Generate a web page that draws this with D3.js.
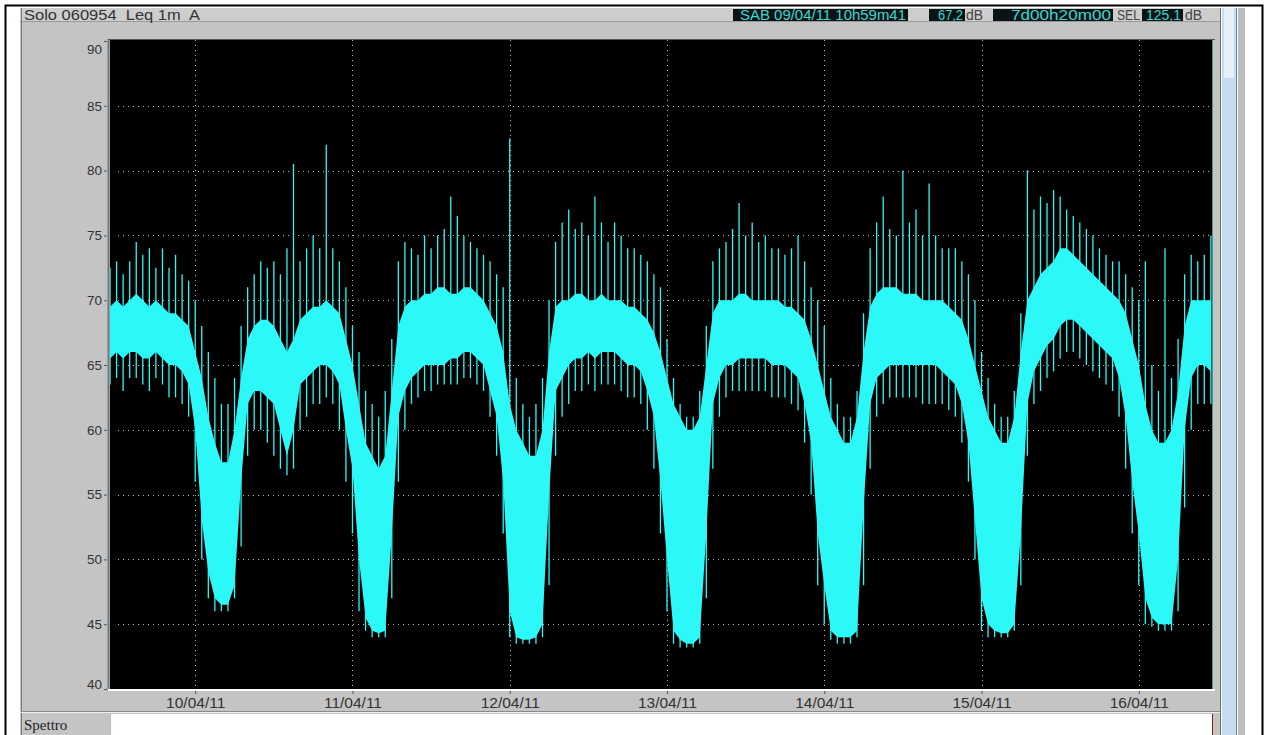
<!DOCTYPE html>
<html>
<head>
<meta charset="utf-8">
<script src="https://cdn.jsdelivr.net/npm/d3@7"></script>
<style>
body { margin: 0; background: #fff; }
svg { display: block; font-family: "Liberation Sans", Arial, sans-serif; }
</style>
</head>
<body>
<div class="chart"></div>
<script>
// hourly samples from 09/04/11 11:00, Leq 1m A (dB)
// lo/hi = dense band, pk = spike tops, mn = spike bottoms
var lo = [65.5, 66, 65.5, 66, 66, 65.5, 65.5, 66, 65.5, 65, 65, 64.5, 63.5,
    60, 53, 49, 47, 46.5, 46.5, 48, 56, 62, 63, 63, 62.5, 62, 60, 58, 60, 63.5, 64, 64.5, 65, 65, 64.5, 63.5, 60,
    57, 50, 45.5, 44.5, 44.3, 44.5, 52, 61, 63, 64, 64.5, 65, 65, 65, 65, 65.5, 65.5, 66, 66, 65.5, 65, 63, 61, 56,
    46, 44, 43.8, 43.8, 44, 45, 55, 63, 64, 65, 65.5, 65.5, 66, 65.5, 66, 66, 66, 65.5, 65, 65, 64.5, 63, 61, 56,
    50, 44.5, 43.8, 43.5, 43.5, 44, 52, 62, 64, 65, 65, 65.5, 65.5, 65.5, 65.5, 65.5, 65, 65, 65, 64.5, 64, 62, 59, 52,
    48, 44.5, 44, 44, 44, 44.5, 54, 62, 64, 64.5, 65, 65, 65, 65, 65, 65, 65, 65, 64.5, 64, 63.5, 62, 59, 53,
    47, 45, 44.5, 44.3, 44.3, 45, 52, 62, 64.5, 65.5, 66.5, 67, 68, 68.5, 68.5, 68, 67.5, 67, 66.5, 66, 65.5, 64, 61, 56,
    52, 47, 45.5, 45, 45, 45, 50, 60, 64, 65, 65, 64.5];

var hi = [69.5, 70, 69.5, 70, 70.5, 70, 69.5, 70, 69.5, 69, 69, 68.5, 68,
    66, 64, 61, 59, 57.5, 57.5, 60, 64, 67, 68, 68.5, 68.5, 68, 67, 66, 67, 68.5, 69, 69.5, 69.5, 70, 69.5, 69, 67,
    65, 62, 59, 58, 57, 58, 63, 68, 69.5, 70, 70, 70.5, 70.5, 71, 71, 70.5, 70.5, 71, 71, 70.5, 70, 69, 68, 66,
    62, 60, 59, 58, 58, 60, 66, 69.5, 70, 70, 70.5, 70.5, 70, 70, 70.5, 70, 70, 70, 69.5, 69.5, 69, 68.5, 67.5, 66,
    64, 62, 61, 60, 60, 61, 65, 69, 70, 70, 70, 70.5, 70.5, 70, 70, 70, 70, 70, 69.5, 69.5, 69, 68.5, 67, 65,
    63, 61, 60, 59, 59, 61, 66, 69.5, 70.5, 71, 71, 71, 70.5, 70.5, 70.5, 70, 70, 70, 70, 69.5, 69, 68.5, 67, 65,
    63, 61, 60, 59, 59, 61, 66, 70, 71, 72, 72.5, 73, 74, 74, 73.5, 73, 72.5, 72, 71.5, 71, 70.5, 70, 69, 67,
    65, 62, 60, 59, 59, 60, 63, 68, 70, 70, 70, 70];

var pk = [72.5, 73, 72, 73, 74.5, 73.5, 74, 72.5, 74, 72.5, 73.5, 72, 71.5,
    70, 68, 66, 64, 62, 62, 64, 68, 71, 72, 73, 72.5, 73, 72, 74, 80.5, 73, 74, 75, 74, 82, 74, 73, 71,
    68, 66, 63, 62, 61, 63, 67, 73, 74.5, 74, 73.5, 75, 74, 75, 75.5, 78, 76.5, 75, 74.5, 74, 73.5, 73, 72, 71,
    82.5, 64, 62, 61, 62, 64, 70, 74.5, 76, 77, 75.5, 76, 75, 78, 76, 74.5, 76, 75, 74, 74, 73.5, 73, 72, 71,
    67, 64, 62, 61, 61, 63, 68, 73, 74, 74.5, 75.5, 77.5, 75, 76, 74.5, 75, 74, 74, 73.5, 74, 75, 73, 71, 70,
    68, 64, 62, 61, 61, 63, 69, 74, 76, 78, 75.5, 75, 80, 76, 77, 75, 79, 75, 74, 74, 74, 73, 72, 70,
    66, 64, 62, 61, 61, 63, 69, 80, 77, 78, 77.5, 78.5, 78, 77, 76.5, 76, 75.5, 75, 74, 73.5, 73, 73, 72, 71,
    70, 73, 65, 63, 74, 64, 67, 72, 73.5, 73, 73.5, 75];

var mn = [63.5, 64, 63, 64, 64, 63.5, 63, 64, 63.5, 62.5, 62.5, 62, 61,
    56, 50, 47, 46, 46, 46, 47, 51, 58, 60, 60, 59, 58, 57, 56.5, 57, 60, 61, 62, 62, 62.5, 62, 60, 56,
    52, 46, 44.5, 44, 44, 44, 47, 56, 60, 62, 62.5, 63, 63, 63.5, 63.5, 63.5, 63.5, 64, 64, 63.5, 63, 61, 58, 52,
    44, 43.5, 43.5, 43.5, 43.5, 44, 48, 58, 61, 62, 63, 63, 63.5, 63, 63.5, 63.5, 63.5, 63, 62.5, 62.5, 62, 60, 57, 52,
    46, 43.5, 43.2, 43.2, 43.2, 43.5, 47, 57, 61, 62.5, 63, 63, 63, 63, 63, 63, 62.5, 62.5, 62.5, 62, 61.5, 59, 55, 48,
    45, 43.8, 43.5, 43.5, 43.5, 44, 48, 57, 61, 62, 62.5, 62.5, 62.5, 62.5, 62.5, 62, 62, 62, 62, 61.5, 61, 59, 56, 50,
    44.5, 44, 44, 44, 44, 44.5, 48, 58, 62, 63, 64, 64.5, 65.5, 66, 66, 65.5, 65, 64.5, 64, 63.5, 63, 61, 57, 52,
    48, 45, 44.8, 44.5, 44.5, 44.5, 46, 54, 60, 62, 62, 62];

var yTicks = [40, 45, 50, 55, 60, 65, 70, 75, 80, 85, 90];
var headerLeft = "Solo 060954  Leq 1m  A";
var headerBoxes = [
    {text: "SAB 09/04/11 10h59m41", x0: 733, x1: 908, len: 166},
    {text: "67,2", x0: 929, x1: 965, len: 25},
    {text: "7d00h20m00", x0: 993, x1: 1113, len: 100},
    {text: "125,1", x0: 1142, x1: 1183, len: 35}
];
var headerUnits = [{text: "dB", x: 966, len: 17}, {text: "SEL", x: 1117, len: 23}, {text: "dB", x: 1185, len: 17}];

var t0 = new Date(2011, 3, 9, 11, 0, 0);
var tStart = new Date(2011, 3, 9, 10, 59, 41), tEnd = new Date(2011, 3, 16, 11, 19, 41);
var data = lo.map((d, i) => ({t: d3.timeHour.offset(t0, i), lo: d, hi: hi[i], pk: pk[i], mn: mn[i]}));

var W = 1267, H = 735;
var plot = {left: 110, top: 40, right: 1213, bottom: 689};

var svg = d3.select(".chart").append("svg")
    .attr("width", W)
    .attr("height", H);

svg.append("rect").attr("width", W).attr("height", H).attr("fill", "#fff");

// window frame
svg.append("rect").attr("x", 20).attr("y", 8).attr("width", 1200).attr("height", H - 8).attr("fill", "#c4c4c4");
svg.append("rect").attr("x", 20).attr("y", 8).attr("width", 1200).attr("height", 13).attr("fill", "#cdcdcd");
svg.append("line").attr("x1", 20).attr("x2", 1220).attr("y1", 21.5).attr("y2", 21.5).attr("stroke", "#9a9a9a");
svg.append("line").attr("x1", 21.5).attr("x2", 21.5).attr("y1", 8).attr("y2", H).attr("stroke", "#7a7a7a");
svg.append("line").attr("x1", 1220.5).attr("x2", 1220.5).attr("y1", 8).attr("y2", H).attr("stroke", "#6a6a6a");
// scrollbar
svg.append("rect").attr("x", 1222).attr("y", 8).attr("width", 15).attr("height", H - 8).attr("fill", "#c6dcf0");
svg.append("line").attr("x1", 1236.5).attr("x2", 1236.5).attr("y1", 8).attr("y2", H).attr("stroke", "#5f86b0");
svg.append("rect").attr("x", 1224).attr("y", 8).attr("width", 10).attr("height", 70).attr("fill", "#e6f0fa");
svg.append("rect").attr("x", 1238).attr("y", 8).attr("width", 7).attr("height", H - 8).attr("fill", "#bdbdbd");
// outer black border
svg.append("path")
    .attr("d", "M5.5," + H + "V5.5H1262.5V" + H)
    .attr("fill", "none").attr("stroke", "#000").attr("stroke-width", 2);

// header
svg.append("text").attr("x", 24).attr("y", 19.5)
    .attr("font-size", 14.5).attr("fill", "#333")
    .attr("textLength", 176).attr("lengthAdjust", "spacingAndGlyphs")
    .style("white-space", "pre")
    .text(headerLeft);

headerBoxes.forEach(b => {
    svg.append("rect").attr("x", b.x0).attr("y", 9).attr("width", b.x1 - b.x0).attr("height", 12).attr("fill", "#0b1414");
    svg.append("text").attr("x", b.x1 - 2 - b.len).attr("y", 20)
        .attr("textLength", b.len).attr("lengthAdjust", "spacingAndGlyphs")
        .attr("font-size", 14).attr("fill", "#3ed6d2").text(b.text);
});
headerUnits.forEach(u => {
    svg.append("text").attr("x", u.x).attr("y", 20)
        .attr("textLength", u.len).attr("lengthAdjust", "spacingAndGlyphs")
        .attr("font-size", 14).attr("fill", "#444").text(u.text);
});

// plot area
svg.append("rect")
    .attr("x", plot.left).attr("y", plot.top)
    .attr("width", plot.right - plot.left).attr("height", plot.bottom - plot.top)
    .attr("fill", "#000");

var x = d3.scaleTime().domain([tStart, tEnd]).range([plot.left, plot.right]);
var y = d3.scaleLinear().domain([40, 90]).range([plot.bottom, plot.top + 1]);

svg.append("defs").append("clipPath").attr("id", "clip")
    .append("rect")
    .attr("x", plot.left).attr("y", plot.top)
    .attr("width", plot.right - plot.left).attr("height", plot.bottom - plot.top);

// dotted grid
var days = d3.timeDay.range(d3.timeDay.ceil(tStart), tEnd);
svg.append("g")
    .selectAll("line")
    .data(yTicks.filter(d => d > 40 && d < 90))
    .join("line")
    .attr("x1", plot.left + 8).attr("x2", plot.right)
    .attr("y1", d => Math.round(y(d)) + 0.5).attr("y2", d => Math.round(y(d)) + 0.5)
    .attr("stroke", "#bbb").attr("stroke-dasharray", "1,4");
svg.append("g")
    .selectAll("line")
    .data(days)
    .join("line")
    .attr("x1", d => Math.round(x(d)) + 0.5).attr("x2", d => Math.round(x(d)) + 0.5)
    .attr("y1", plot.top).attr("y2", plot.bottom)
    .attr("stroke", "#bbb").attr("stroke-dasharray", "1,4");

// signal
var g = svg.append("g").attr("clip-path", "url(#clip)");
var area = d3.area()
    .x(d => x(d.t))
    .y0(d => y(d.lo))
    .y1(d => y(d.hi));
g.append("path")
    .datum(data)
    .attr("d", area)
    .attr("fill", "#2cf8f8");
g.selectAll("line.spike")
    .data(data)
    .join("line")
    .attr("class", "spike")
    .attr("x1", d => x(d.t)).attr("x2", d => x(d.t))
    .attr("y1", d => y(d.mn)).attr("y2", d => y(d.pk))
    .attr("stroke", "#2cf8f8").attr("stroke-width", 1.3);

// plot borders
svg.append("line").attr("x1", plot.left - 1.5).attr("x2", plot.left - 1.5).attr("y1", plot.top - 1).attr("y2", plot.bottom + 2)
    .attr("stroke", "#6f7a7a").attr("stroke-width", 2);
svg.append("line").attr("x1", plot.left - 2).attr("x2", plot.right + 2).attr("y1", plot.top - 0.5).attr("y2", plot.top - 0.5)
    .attr("stroke", "#555");
svg.append("line").attr("x1", plot.right - 0.5).attr("x2", plot.right - 0.5).attr("y1", plot.top).attr("y2", plot.bottom)
    .attr("stroke", "#3f9a8c");
svg.append("line").attr("x1", plot.left - 2).attr("x2", plot.right + 2).attr("y1", plot.bottom + 1).attr("y2", plot.bottom + 1)
    .attr("stroke", "#fff").attr("stroke-width", 2);

// axes
var yAxis = svg.append("g")
    .attr("transform", "translate(" + (plot.left - 3) + ",0)")
    .call(d3.axisLeft(y).tickValues(yTicks).tickSize(3).tickPadding(2));
yAxis.select(".domain").remove();
yAxis.selectAll("text")
    .attr("font-family", "Liberation Sans, Arial, sans-serif")
    .attr("font-size", 13.5).attr("fill", "#333")
    .attr("dy", d => d === 90 ? "0.95em" : d === 40 ? "-0.05em" : "0.32em");
yAxis.selectAll("line").attr("stroke", "#555");

var xAxis = svg.append("g")
    .attr("transform", "translate(0," + (plot.bottom + 2) + ")")
    .call(d3.axisBottom(x).tickValues(days).tickFormat(d3.timeFormat("%d/%m/%y")).tickSize(3).tickPadding(3));
xAxis.select(".domain").remove();
xAxis.selectAll("text")
    .attr("font-family", "Liberation Sans, Arial, sans-serif")
    .attr("font-size", 15.5).attr("fill", "#333");
xAxis.selectAll("line").attr("stroke", "#555");

// spectrum strip
svg.append("line").attr("x1", 21).attr("x2", 1220).attr("y1", 711.5).attr("y2", 711.5).attr("stroke", "#8a8a8a");
svg.append("line").attr("x1", 21).attr("x2", 1220).attr("y1", 712.5).attr("y2", 712.5).attr("stroke", "#eee");
svg.append("rect").attr("x", plot.left).attr("y", 714).attr("width", plot.right - plot.left).attr("height", H - 714).attr("fill", "#fff");
svg.append("line").attr("x1", plot.left + 0.5).attr("x2", plot.left + 0.5).attr("y1", 714).attr("y2", H).attr("stroke", "#d9b0b0");
svg.append("line").attr("x1", plot.right - 0.5).attr("x2", plot.right - 0.5).attr("y1", 714).attr("y2", H).attr("stroke", "#8a1c1c");
svg.append("text").attr("x", 24).attr("y", 730)
    .attr("font-family", "Liberation Serif, Times New Roman, serif")
    .attr("font-size", 15).attr("fill", "#222")
    .text("Spettro");
</script>
</body>
</html>
